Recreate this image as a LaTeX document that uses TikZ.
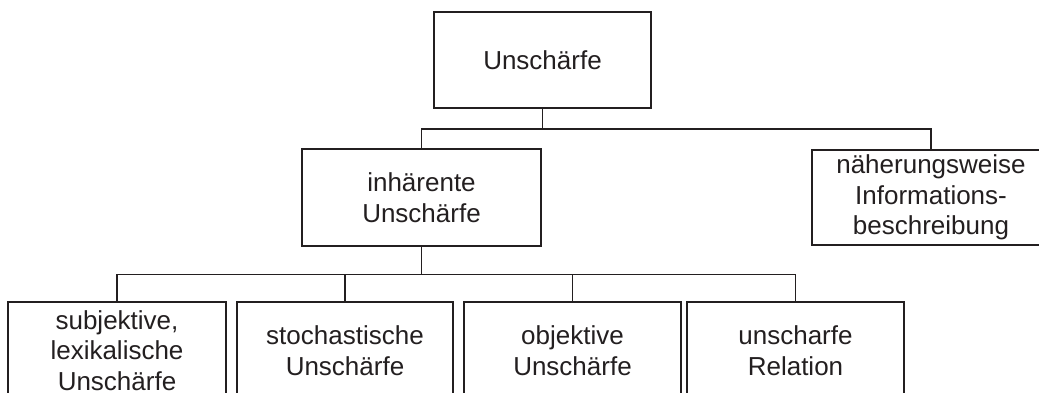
\documentclass[tikz,border=0pt]{standalone}
\usepackage{fontspec}
\setmainfont{Liberation Sans}
\definecolor{ink}{HTML}{231F20}
\begin{document}
\begin{tikzpicture}[x=1pt,y=-1pt,
  box/.style={draw=ink, line width=1.4pt, fill=white, text=ink, align=center,
    inner sep=0pt, minimum height=97pt,
    font=\fontsize{26}{30.5}\selectfont},
  link/.style={draw=ink, line width=1.4pt}]
\useasboundingbox (0,0) rectangle (1039,392);
\clip (0,0) rectangle (1039,392);

% root
\node[box, minimum width=217pt, minimum height=96pt] (root) at (542.5,60) {Unschärfe};

% second level
\node[box, minimum width=239pt] (inh) at (421.5,197.5) {inhärente\\Unschärfe};
\node[box, minimum width=238pt, minimum height=95pt] (approx) at (931,197.5)
  {näherungsweise\\Informations-\\beschreibung};

% third level
\node[box, minimum width=218pt] (subj) at (117,350.5) {subjektive,\\lexikalische\\Unschärfe};
\node[box, minimum width=216pt] (stoch) at (345,350.5) {stochastische\\Unschärfe};
\node[box, minimum width=217pt] (obj) at (572.5,350.5) {objektive\\Unschärfe};
\node[box, minimum width=217pt] (rel) at (795.5,350.5) {unscharfe\\Relation};

% bus levels
\coordinate (busA) at (0,129);
\coordinate (busB) at (0,274.5);

% tree connectors
\draw[link] (root.south) -- (root.south |- busA) -| (inh.north);
\draw[link] (root.south |- busA) -| (approx.north);
\draw[link] (inh.south) -- (inh.south |- busB) -| (subj.north);
\draw[link] (inh.south |- busB) -| (stoch.north);
\draw[link] (inh.south |- busB) -| (obj.north);
\draw[link] (inh.south |- busB) -| (rel.north);
\end{tikzpicture}
\end{document}
